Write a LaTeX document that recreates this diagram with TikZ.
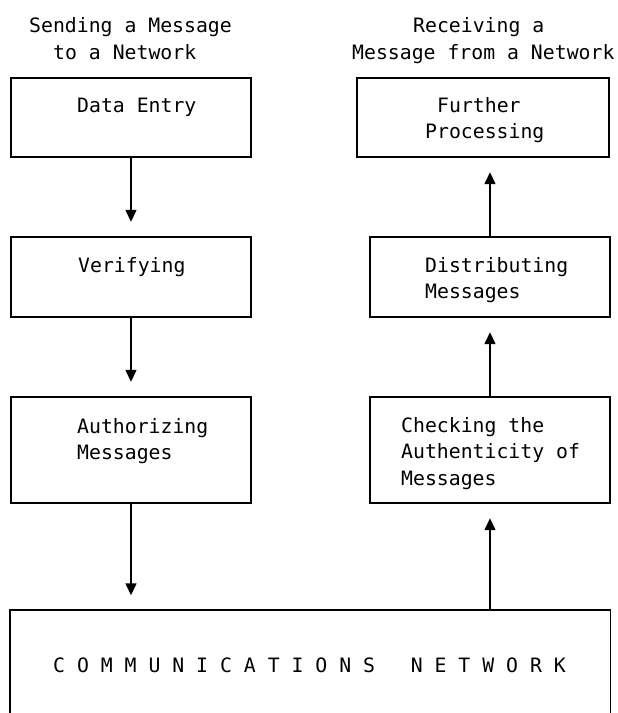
\documentclass[tikz,border=0pt]{standalone}
\usepackage{fontspec}
\setmainfont{DejaVu Sans Mono}
\usetikzlibrary{arrows.meta}

\tikzset{
  box/.style={draw, line width=1.4pt, inner sep=0pt},
  txt/.style={anchor=base west, inner sep=0pt},
  flow/.style={line width=1.4pt, -{Triangle[length=12pt,width=11pt]}, shorten >=14.5pt}
}

\begin{document}
\begin{tikzpicture}[x=1pt, y=-1pt, font=\fontsize{19.8}{26}\selectfont]
  \useasboundingbox (0,0) rectangle (618,713);
  % left column: sending
  \node[box, minimum width=240pt, minimum height=79pt] (entry) at (131,117.5) {};
  \node[box, minimum width=240pt, minimum height=80pt] (verify) at (131,277) {};
  \node[box, minimum width=240pt, minimum height=106pt] (auth) at (131,450) {};
  % right column: receiving
  \node[box, minimum width=252pt, minimum height=79pt] (further) at (483,117.5) {};
  \node[box, minimum width=240pt, minimum height=80pt] (distrib) at (490,277) {};
  \node[box, minimum width=240pt, minimum height=106pt] (check) at (490,450) {};
  % the network, open at the bottom
  \node[minimum width=600pt, minimum height=103pt, inner sep=0pt] (net) at (310,661.5) {};
  \draw[line width=1.4pt] (net.south west) -- (net.north west) -- (net.north east) -- (net.south east);

  \node[txt] (sendA) at (29,32) {Sending a Message};
  \node[txt] (sendB) at (53,59) {to a Network};
  \node[txt] (recvA) at (413,32) {Receiving a};
  \node[txt] (recvB) at (352,59) {Message from a Network};

  \node[txt] (entryA) at (77,112) {Data Entry};
  \node[txt] (verifyA) at (78,272) {Verifying};
  \node[txt] (authA) at (77,433) {Authorizing};
  \node[txt] (authB) at (77,459) {Messages};

  \node[txt] (furtherA) at (437,112) {Further};
  \node[txt] (furtherB) at (425,138) {Processing};
  \node[txt] (distribA) at (425,272) {Distributing};
  \node[txt] (distribB) at (425,298) {Messages};
  \node[txt] (checkA) at (401,432) {Checking the};
  \node[txt] (checkB) at (401,458) {Authenticity of};
  \node[txt] (checkC) at (401,485) {Messages};

  \node[txt] (netA) at (53,672) {C~O~M~M~U~N~I~C~A~T~I~O~N~S~~~N~E~T~W~O~R~K};

  \draw[flow] (entry) -- (verify);
  \draw[flow] (verify) -- (auth);
  \draw[flow] (auth) -- (auth |- net.north);
  \draw[flow] (check |- net.north) -- (check);
  \draw[flow] (check) -- (distrib);
  \draw[flow] (distrib.north) -- (distrib.north |- further.south);
\end{tikzpicture}
\end{document}
